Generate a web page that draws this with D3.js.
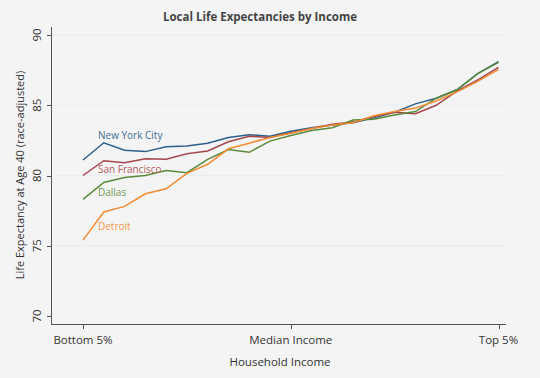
<!DOCTYPE html>
<html>
<head>
<meta charset="utf-8">
<style>
  body { margin: 0; background: #f4f4f4; }
  svg { display: block; font-family: "Open Sans", sans-serif; }
</style>
</head>
<body>
<svg id="chart" width="540" height="378"></svg>
<script src="https://d3js.org/d3.v7.min.js"></script>
<script>
// income groups, index 0 = bottom 5%, 10 = median, 20 = top 5%
var groups = d3.range(21);
var xTicks = [0, 10, 20];
var xTickLabels = ["Bottom 5%", "Median Income", "Top 5%"];
var yTicks = [70, 75, 80, 85, 90];

var nyc     = [81.1, 82.33, 81.8, 81.7, 82.05, 82.1, 82.3, 82.7, 82.9, 82.8, 83.15, 83.4, 83.6, 83.75, 84.1, 84.5, 85.1, 85.5, 86.1, 87.25, 88.1];
var sf      = [80.0, 81.05, 80.9, 81.2, 81.15, 81.55, 81.75, 82.4, 82.8, 82.7, 83.05, 83.35, 83.65, 83.8, 84.2, 84.5, 84.4, 85.0, 86.0, 86.8, 87.7];
var dallas  = [78.3, 79.5, 79.85, 80.0, 80.35, 80.2, 81.15, 81.85, 81.65, 82.45, 82.85, 83.2, 83.4, 83.95, 84.0, 84.3, 84.55, 85.5, 86.1, 87.25, 88.05];
var detroit = [75.4, 77.4, 77.8, 78.7, 79.05, 80.15, 80.8, 81.9, 82.3, 82.7, 83.0, 83.35, 83.6, 83.75, 84.25, 84.55, 84.8, 85.3, 85.95, 86.7, 87.55];

var seriesNames = ["New York City", "San Francisco", "Dallas", "Detroit"];
var seriesValues = [nyc, sf, dallas, detroit];
var lineColors = ["#2d5f8b", "#a5474e", "#5b8a3a", "#f28c33"];
var labelColors = ["#3f6d96", "#b55d62", "#6f9a52", "#f5964a"];
var labelAt = [82.63, 80.2, 78.54, 76.12];

var svg = d3.select("#chart");
var x = d3.scaleLinear().domain([0, 20]).range([83, 498.5]);
var y = d3.scaleLinear().domain([70, 90]).range([316, 35]);

// gridlines
svg.selectAll(".grid").data(yTicks.filter(function(d){ return d > 70; }))
  .enter().append("line")
  .attr("x1", 52).attr("x2", 506)
  .attr("y1", function(d){ return y(d); }).attr("y2", function(d){ return y(d); })
  .attr("stroke", "#e6eef0").attr("stroke-width", 1);

// axes
svg.append("line").attr("x1", 51.5).attr("x2", 51.5).attr("y1", 27).attr("y2", 324.5)
  .attr("stroke", "#555").attr("stroke-width", 1);
svg.append("line").attr("x1", 51).attr("x2", 506).attr("y1", 324.5).attr("y2", 324.5)
  .attr("stroke", "#555").attr("stroke-width", 1);

svg.selectAll(".ytick").data(yTicks).enter().append("line")
  .attr("x1", 47).attr("x2", 51)
  .attr("y1", function(d){ return Math.round(y(d)) + 0.5; })
  .attr("y2", function(d){ return Math.round(y(d)) + 0.5; })
  .attr("stroke", "#555");

svg.selectAll(".ylab").data(yTicks).enter().append("text")
  .attr("transform", function(d){ return "translate(41," + y(d) + ") rotate(-90)"; })
  .attr("text-anchor", "middle")
  .attr("font-size", 11.5).attr("fill", "#333")
  .text(function(d){ return d; });

svg.selectAll(".xtick").data(xTicks).enter().append("line")
  .attr("x1", function(d){ return Math.round(x(d)) + 0.5; })
  .attr("x2", function(d){ return Math.round(x(d)) + 0.5; })
  .attr("y1", 325).attr("y2", 329)
  .attr("stroke", "#555");

svg.selectAll(".xlab").data(xTicks).enter().append("text")
  .attr("x", function(d){ return x(d); }).attr("y", 344)
  .attr("text-anchor", "middle")
  .attr("font-size", 11.5).attr("fill", "#333")
  .text(function(d, i){ return xTickLabels[i]; });

svg.append("text").attr("x", 280).attr("y", 366)
  .attr("text-anchor", "middle").attr("font-size", 11.5).attr("fill", "#333")
  .text("Household Income");

svg.append("text")
  .attr("transform", "translate(24,175) rotate(-90)")
  .attr("text-anchor", "middle").attr("font-size", 11).attr("fill", "#333")
  .text("Life Expectancy at Age 40 (race-adjusted)");

svg.append("text").attr("x", 260).attr("y", 21)
  .attr("text-anchor", "middle").attr("font-size", 11.5).attr("font-weight", "bold")
  .attr("fill", "#444")
  .text("Local Life Expectancies by Income");

// lines
var line = d3.line()
  .x(function(d, i){ return x(groups[i]); })
  .y(function(d){ return y(d); });

svg.selectAll(".series").data(seriesValues).enter().append("path")
  .attr("d", line)
  .attr("fill", "none")
  .attr("stroke", function(d, i){ return lineColors[i]; })
  .attr("stroke-width", 1.5);

svg.selectAll(".slab").data(seriesNames).enter().append("text")
  .attr("x", 98)
  .attr("y", function(d, i){ return y(labelAt[i]); })
  .attr("font-size", 10)
  .attr("fill", function(d, i){ return labelColors[i]; })
  .text(function(d){ return d; });
</script>
</body>
</html>
